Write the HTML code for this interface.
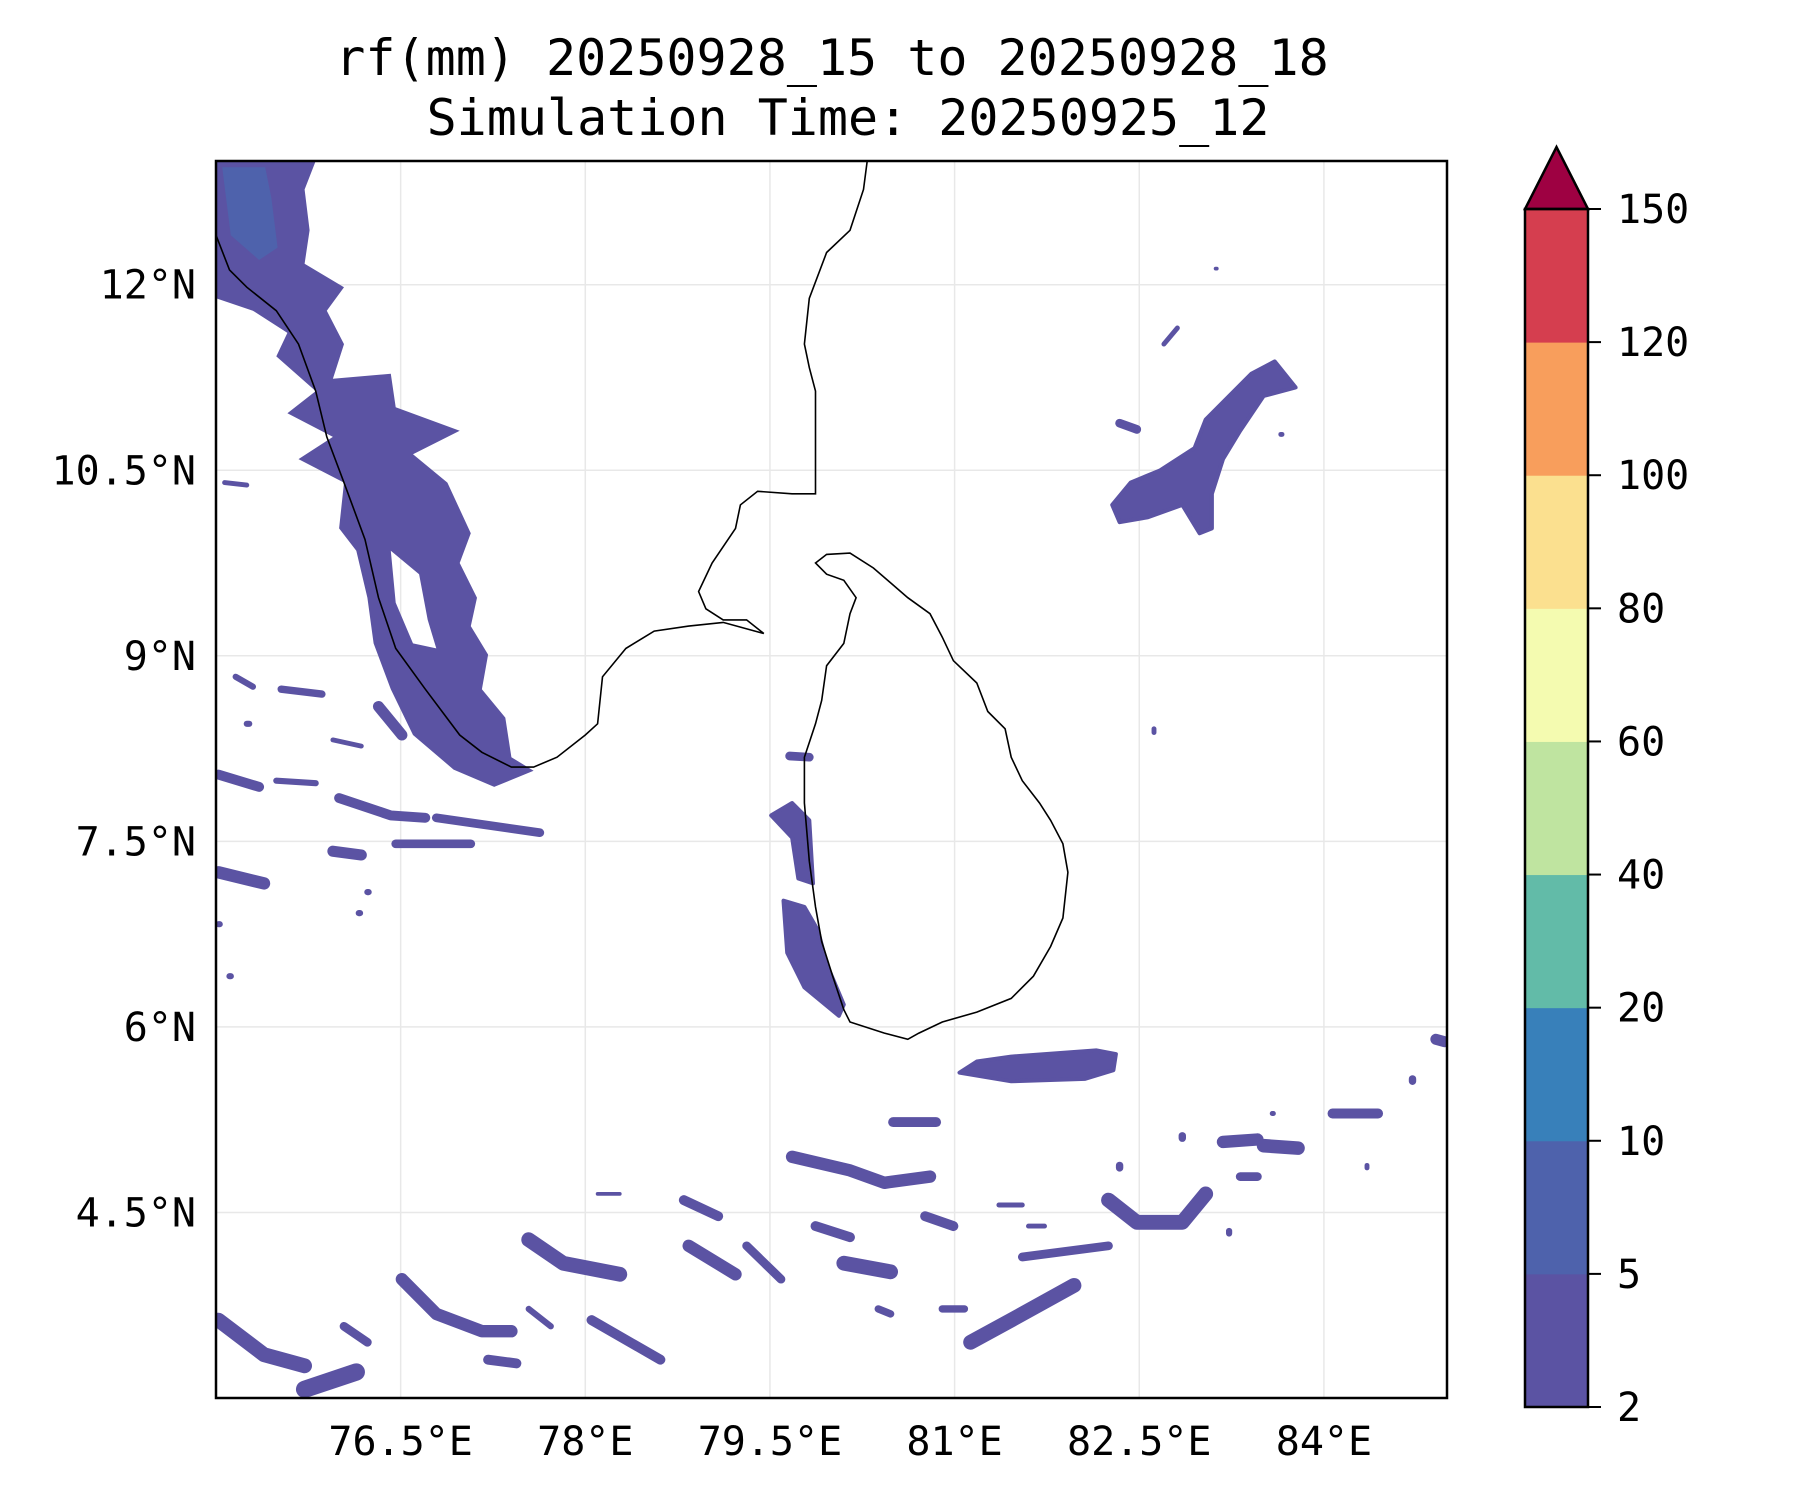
<!DOCTYPE html>
<html><head><meta charset="utf-8">
<style>
html,body{margin:0;padding:0;background:#fff;}
svg{display:block;font-family:"DejaVu Sans Mono","Liberation Mono",monospace;}
</style></head>
<body>
<svg id="chart" width="1800" height="1500" viewBox="0 0 1800 1500">
<rect x="0" y="0" width="1800" height="1500" fill="#fff"/>
<text x="832" y="75" font-size="50" text-anchor="middle">rf(mm) 20250928_15 to 20250928_18</text>
<text x="848" y="135" font-size="50" text-anchor="middle">Simulation Time: 20250925_12</text>
<defs><clipPath id="mapclip"><rect x="216" y="161" width="1231" height="1237"/></clipPath></defs>
<g id="grid"></g>
<g id="rain" clip-path="url(#mapclip)"></g>
<g id="coast" clip-path="url(#mapclip)"></g>
<rect x="216" y="161" width="1231" height="1237" fill="none" stroke="#000" stroke-width="2.5"/>
<g id="xlabels"></g>
<g id="ylabels"></g>
<g id="cbar"></g>
</svg>
<script>
const lonTicks=[76.5,78,79.5,81,82.5,84];
const latTicks=[12,10.5,9,7.5,6,4.5];
const cbLevels=[2,5,10,20,40,60,80,100,120,150];
const cbColors=["#5b53a3","#4e62ac","#3880ba","#62bba8","#bfe4a0","#f4fbb0","#fbe08f","#f89e5c","#d53e4f"];
const extendColor="#9e0142";
const keralaBand=[[75.00,13.00],[75.81,13.00],[75.72,12.77],[75.76,12.44],[75.72,12.17],[76.04,11.98],[75.90,11.79],[76.04,11.52],[75.95,11.24],[76.42,11.28],[76.46,11.01],[76.98,10.82],[76.60,10.63],[76.88,10.40],[77.07,9.99],[76.98,9.75],[77.12,9.47],[77.07,9.24],[77.21,9.01],[77.16,8.73],[77.35,8.50],[77.40,8.18],[77.58,8.07],[77.26,7.94],[76.93,8.08],[76.60,8.36],[76.42,8.73],[76.28,9.10],[76.23,9.47],[76.14,9.85],[76.00,10.03],[76.04,10.40],[75.67,10.59],[75.95,10.77],[75.58,10.96],[75.81,11.14],[75.49,11.42],[75.58,11.61],[75.30,11.79],[75.00,11.89]];
const keralaHole=[[76.42,9.85],[76.65,9.66],[76.72,9.29],[76.79,9.06],[76.60,9.10],[76.46,9.43]];
const keralaCore=[[75.05,12.95],[75.40,12.95],[75.45,12.70],[75.50,12.30],[75.35,12.20],[75.12,12.40]];
const neBlob=[[82.28,10.22],[82.34,10.08],[82.57,10.12],[82.85,10.22],[82.99,9.99],[83.09,10.03],[83.09,10.31],[83.18,10.59],[83.32,10.82],[83.51,11.10],[83.77,11.17],[83.60,11.38],[83.41,11.28],[83.23,11.10],[83.04,10.91],[82.95,10.68],[82.67,10.50],[82.43,10.40]];
const southBlob=[[81.04,5.63],[81.46,5.56],[82.06,5.58],[82.29,5.65],[82.31,5.78],[82.15,5.81],[81.46,5.76],[81.18,5.72]];
const swBlob=[[79.61,7.02],[79.64,6.60],[79.78,6.32],[80.06,6.09],[80.10,6.18],[79.96,6.51],[79.89,6.78],[79.78,6.97]];
const wBlob=[[79.51,7.71],[79.68,7.81],[79.82,7.67],[79.85,7.16],[79.73,7.20],[79.68,7.53]];
const streakPaths=[
[[75.02,8.04],[75.35,7.94]],[[75.02,7.25],[75.39,7.16]],[[75.49,7.99],[75.81,7.97]],
[[76.00,7.85],[76.42,7.71],[76.70,7.69]],[[75.95,7.42],[76.18,7.39]],[[76.46,7.48],[77.07,7.48]],
[[76.79,7.69],[77.63,7.57]],[[75.53,8.73],[75.86,8.69]],[[75.16,8.83],[75.30,8.75]],
[[76.32,8.59],[76.51,8.36]],[[75.02,3.63],[75.39,3.35],[75.72,3.26]],[[75.72,3.07],[76.14,3.21]],
[[76.04,3.58],[76.23,3.45]],[[76.51,3.96],[76.79,3.68],[77.16,3.54],[77.40,3.54]],[[77.21,3.31],[77.44,3.28]],
[[77.54,4.28],[77.82,4.09],[78.28,4.00]],[[78.05,3.63],[78.61,3.31]],[[77.54,3.72],[77.72,3.58]],
[[78.80,4.60],[79.08,4.47]],[[78.84,4.23],[79.22,4.00]],[[79.31,4.23],[79.59,3.96]],
[[79.68,4.95],[80.15,4.84],[80.43,4.74],[80.80,4.79]],[[80.50,5.23],[80.85,5.23]],[[79.87,4.39],[80.15,4.30]],
[[80.10,4.09],[80.48,4.02]],[[80.76,4.47],[80.99,4.39]],[[80.38,3.72],[80.48,3.68]],[[80.90,3.72],[81.08,3.72]],
[[81.13,3.45],[81.46,3.63],[81.97,3.91]],[[81.55,4.14],[82.25,4.23]],[[82.25,4.60],[82.48,4.42],[82.85,4.42],[83.04,4.65]],
[[83.18,5.07],[83.46,5.09]],[[83.51,5.04],[83.79,5.02]],[[83.32,4.79],[83.46,4.79]],[[84.07,5.30],[84.44,5.30]],
[[84.91,5.90],[84.98,5.88]],[[84.72,5.58],[84.72,5.56]],[[79.66,8.19],[79.82,8.18]],[[75.07,10.40],[75.25,10.38]],
[[82.34,10.88],[82.48,10.83]],[[82.85,5.12],[82.85,5.10]],[[82.34,4.88],[82.34,4.86]],[[81.60,4.39],[81.73,4.39]],
[[78.10,4.65],[78.28,4.65]],[[84.35,4.88],[84.35,4.86]],[[83.23,4.35],[83.23,4.33]],[[83.65,10.79],[83.66,10.79]],
[[82.81,11.65],[82.70,11.52]],[[76.23,7.09],[76.24,7.09]],[[76.16,6.92],[76.17,6.92]],[[75.11,6.41],[75.12,6.41]],
[[75.02,6.83],[75.03,6.83]],[[81.36,4.56],[81.55,4.56]],[[83.58,5.30],[83.59,5.30]],[[82.62,8.41],[82.62,8.38]],
[[75.25,8.45],[75.27,8.45]],[[75.95,8.32],[76.18,8.27]],[[83.12,12.13],[83.13,12.13]]];
const streakWidths=[.08,.1,.05,.08,.09,.07,.07,.06,.05,.09,.12,.14,.07,.1,.08,.12,.08,.05,.08,.1,.07,.1,.08,.08,.12,.08,.06,.06,.12,.07,.12,.1,.11,.07,.08,.09,.06,.07,.04,.07,.06,.06,.04,.03,.04,.05,.04,.04,.05,.05,.05,.05,.04,.04,.04,.05,.04,.03];
const indiaCoast=[[80.29,13.00],[80.26,12.77],[80.15,12.44],[79.96,12.26],[79.82,11.89],[79.78,11.52],[79.82,11.33],[79.87,11.14],[79.87,10.31],[79.68,10.31],[79.40,10.33],[79.26,10.22],[79.22,10.03],[79.03,9.75],[78.92,9.52],[78.98,9.38],[79.12,9.29],[79.31,9.29],[79.45,9.18],[79.12,9.27],[78.84,9.24],[78.56,9.20],[78.33,9.06],[78.14,8.83],[78.10,8.45],[78.00,8.36],[77.77,8.18],[77.58,8.10],[77.40,8.10],[77.16,8.22],[76.98,8.36],[76.70,8.73],[76.46,9.06],[76.32,9.47],[76.21,9.94],[76.04,10.40],[75.90,10.77],[75.81,11.14],[75.67,11.52],[75.49,11.79],[75.25,11.98],[75.11,12.12],[75.00,12.40]];
const sriLankaCoast=[[79.87,9.75],[79.96,9.82],[80.15,9.83],[80.34,9.71],[80.62,9.47],[80.80,9.34],[80.90,9.15],[80.99,8.96],[81.18,8.78],[81.27,8.55],[81.41,8.41],[81.46,8.18],[81.55,7.99],[81.69,7.81],[81.78,7.67],[81.88,7.48],[81.92,7.25],[81.88,6.88],[81.78,6.65],[81.64,6.41],[81.46,6.23],[81.18,6.12],[80.90,6.04],[80.71,5.95],[80.62,5.90],[80.43,5.95],[80.15,6.04],[80.10,6.14],[80.01,6.41],[79.92,6.69],[79.87,6.97],[79.82,7.34],[79.78,7.81],[79.78,8.18],[79.87,8.45],[79.92,8.64],[79.96,8.92],[80.10,9.10],[80.15,9.34],[80.20,9.47],[80.10,9.61],[79.96,9.66]];

const NS="http://www.w3.org/2000/svg";
const L=216,R=1447,T=161,B=1398;
function xs(lon){return L+(lon-75)/10*(R-L);}
function ys(lat){return T+(13-lat)/10*(B-T);}
function mk(tag,attrs,parent){const e=document.createElementNS(NS,tag);for(const k in attrs)e.setAttribute(k,attrs[k]);parent.appendChild(e);return e;}
function ptsStr(a){return a.map(p=>xs(p[0]).toFixed(1)+","+ys(p[1]).toFixed(1)).join(" ");}
function pathD(a,close){return "M"+a.map(p=>xs(p[0]).toFixed(1)+" "+ys(p[1]).toFixed(1)).join(" L")+(close?" Z":"");}

const grid=document.getElementById('grid');
lonTicks.forEach(v=>{const l=mk('line',{x1:xs(v),x2:xs(v),y1:T,y2:B,stroke:'#e8e8e8','stroke-width':1.5},grid);

});
latTicks.forEach(v=>{const l=mk('line',{x1:L,x2:R,y1:ys(v),y2:ys(v),stroke:'#e8e8e8','stroke-width':1.5},grid);

});

const rain=document.getElementById('rain');
const c0=cbColors[0],c1=cbColors[1];
const kb=mk('path',{d:pathD(keralaBand,true)+" "+pathD(keralaHole,true),'fill-rule':'evenodd',fill:c0},rain);


const kc=mk('path',{d:pathD(keralaCore,true),fill:c1},rain);


[[neBlob,'ne-rain-blob'],[southBlob,'south-rain-blob'],[swBlob,'sw-rain-blob'],[wBlob,'west-rain-blob']].forEach(([a,n])=>{
const p=mk('polygon',{points:ptsStr(a),fill:c0,'stroke':c0,'stroke-width':4,'stroke-linejoin':'round'},rain);

});
streakPaths.forEach((a,i)=>{const w=streakWidths[i]*(B-T)/10;
const p=mk('polyline',{points:ptsStr(a),fill:'none',stroke:c0,'stroke-width':w.toFixed(1),'stroke-linecap':'round','stroke-linejoin':'round'},rain);

});

const coast=document.getElementById('coast');
const ic=mk('polyline',{points:ptsStr(indiaCoast),fill:'none',stroke:'#000','stroke-width':1.6},coast);


const sl=mk('polygon',{points:ptsStr(sriLankaCoast),fill:'none',stroke:'#000','stroke-width':1.6},coast);



const xl=document.getElementById('xlabels');
lonTicks.forEach(v=>{const t=mk('text',{x:xs(v),y:1455,'font-size':40,'text-anchor':'middle'},xl);t.textContent=v+"°E";

});
const yl=document.getElementById('ylabels');
latTicks.forEach(v=>{const t=mk('text',{x:196,y:ys(v)+14,'font-size':40,'text-anchor':'end'},yl);t.textContent=v+"°N";

});

const cb=document.getElementById('cbar');
const CX0=1525,CX1=1588,CT=209,CB=1407;
const n=cbLevels.length-1,seg=(CB-CT)/n;
function cy(i){return CB-i*seg;}
cbColors.forEach((c,i)=>{const r=mk('rect',{x:CX0,y:cy(i+1),width:CX1-CX0,height:seg+0.5,fill:c},cb);

});
const tri=mk('polygon',{points:`${CX0},${CT} ${CX1},${CT} ${(CX0+CX1)/2},147`,fill:extendColor,stroke:'#000','stroke-width':2.5},cb);


const fr=mk('rect',{x:CX0,y:CT,width:CX1-CX0,height:CB-CT,fill:'none',stroke:'#000','stroke-width':2.5},cb);


cbLevels.forEach((v,i)=>{const y=cy(i);
const tk=mk('line',{x1:CX1,x2:CX1+13,y1:y,y2:y,stroke:'#000','stroke-width':2},cb);


const t=mk('text',{x:1617,y:y+14,'font-size':40},cb);t.textContent=v;

});
</script>
</body></html>
